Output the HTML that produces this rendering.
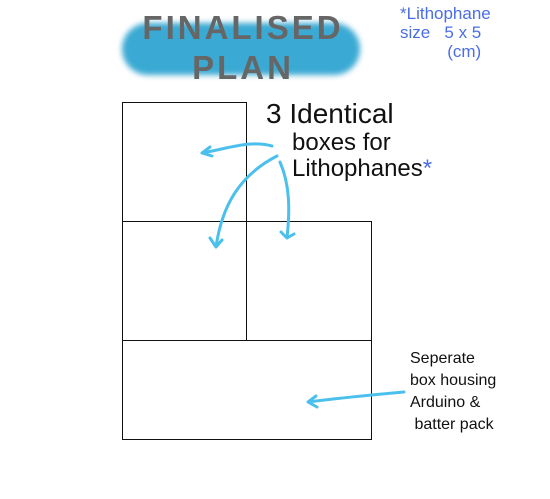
<!DOCTYPE html>
<html><head><meta charset="utf-8"><style>
body{margin:0;width:550px;height:499px;background:#fff;overflow:hidden;position:relative;font-family:"Liberation Sans",sans-serif}
.abs{position:absolute}
.box{position:absolute;border:1.5px solid #111;box-sizing:border-box}
.hand{position:absolute;color:#111;font-family:"Liberation Sans",sans-serif;white-space:nowrap}
</style></head><body>
<div class="abs" style="left:122px;top:23px;width:238px;height:52px;background:#3aa9d3;border-radius:26px;filter:blur(3px)"></div>
<div class="abs" style="left:122px;top:8px;width:242px;text-align:center;color:#666;font-weight:bold;font-size:33px;line-height:40px;letter-spacing:3px">FINALISED<br>PLAN</div>
<div class="hand" style="left:400px;top:4px;color:#4a6ee8;font-size:17px;line-height:19px;text-align:left">*Lithophane<br>size&nbsp;&nbsp; 5 x 5<br>&nbsp;&nbsp;&nbsp;&nbsp;&nbsp;&nbsp;&nbsp;&nbsp;&nbsp;&nbsp;(cm)</div>
<div class="box" style="left:122px;top:102px;width:125px;height:120px"></div>
<div class="box" style="left:122px;top:221px;width:125px;height:120px"></div>
<div class="box" style="left:246px;top:221px;width:126px;height:120px"></div>
<div class="box" style="left:122px;top:340px;width:250px;height:100px"></div>
<div class="hand" style="left:266px;top:100px;font-size:28px;line-height:28px">3 Identical</div>
<div class="hand" style="left:292px;top:130px;font-size:24px;line-height:26px">boxes for<br>Lithophanes<span style="color:#4a6ee8">*</span></div>
<div class="hand" style="left:410px;top:348px;font-size:16px;line-height:22px">Seperate<br>box housing<br>Arduino &amp;<br>&nbsp;batter pack</div>
<svg class="abs" style="left:0;top:0" width="550" height="499">
<g fill="none" stroke="#4cc0ec" stroke-width="3" stroke-linecap="round" stroke-linejoin="round">
<path d="M272,146 C250,140 230,148 202,153 M210,147 L202,153 L212,156"/>
<path d="M277,156 C240,175 222,205 216,247 M210,238 L216,247 L222,240"/>
<path d="M280,162 C290,185 290,210 287,238 M281,232 L287,238 L294,234"/>
<path d="M404,392 C370,395 340,398 308,402 M316,396 L308,402 L317,407"/>
</g></svg>
</body></html>
